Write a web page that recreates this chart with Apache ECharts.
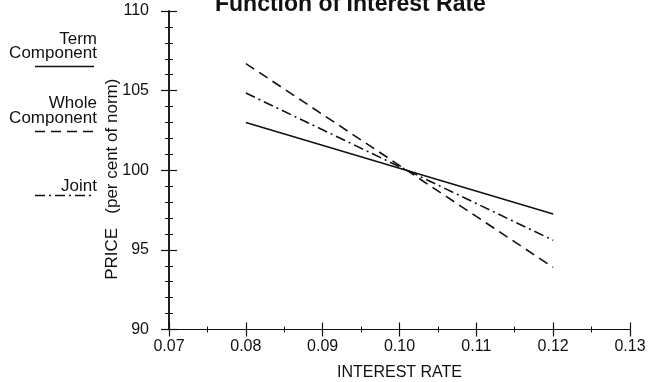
<!DOCTYPE html>
<html>
<head>
<meta charset="utf-8">
<title>Price as a Function of Interest Rate</title>
<script src="https://cdn.jsdelivr.net/npm/echarts@6/dist/echarts.min.js"></script>
<style>
  html, body { margin: 0; padding: 0; background: #fff; }
  #chart { width: 648px; height: 382px; }
</style>
</head>
<body>
<div id="chart"></div>
<script>
// Interest rates at which each price line is evaluated
const rates = [0.08, 0.12];
// Price (per cent of norm) for each component
const termPrice = [103.0, 97.25];
const wholePrice = [106.7, 93.9];
const jointPrice = [104.85, 95.6];

const seriesNames = ['Term Component', 'Whole Component', 'Joint'];

const INK = '#111';
const FONT = "'Liberation Sans', Arial, sans-serif";

function pairs(xs, ys) {
  return xs.map((x, i) => [x, ys[i]]);
}

const chart = echarts.init(document.getElementById('chart'), null, { renderer: 'canvas' });

// shared axis pieces; the second copy of each axis draws the inner half of the cross ticks
const xBase = {
  type: 'value', min: 0.07, max: 0.13, interval: 0.01,
  axisLine: { show: true, lineStyle: { color: INK, width: 1.2 } },
  splitLine: { show: false },
  minorTick: { show: true, splitNumber: 2, length: 3, lineStyle: { color: INK, width: 1 } }
};
const yBase = {
  type: 'value', min: 90, max: 110, interval: 5,
  axisLine: { show: true, lineStyle: { color: INK, width: 1.5 } },
  splitLine: { show: false },
  minorTick: { show: true, splitNumber: 5, length: 4, lineStyle: { color: INK, width: 1 } }
};

chart.setOption({
  backgroundColor: '#fff',
  animation: false,
  title: {
    text: 'Function of Interest Rate',
    left: 215, top: -7, padding: 0,
    textStyle: { fontFamily: FONT, fontWeight: 'bold', fontSize: 23, color: INK }
  },
  grid: { left: 169, right: 18, top: 11, bottom: 52.5, containLabel: false, outerBoundsMode: 'none' },
  xAxis: [
    Object.assign({}, xBase, {
      position: 'bottom',
      name: 'INTEREST RATE', nameLocation: 'middle', nameGap: 35,
      nameTextStyle: { fontFamily: FONT, fontSize: 16, color: INK },
      axisTick: { show: true, inside: false, length: 7, lineStyle: { color: INK, width: 1.2 } },
      axisLabel: {
        show: true, margin: 9, fontFamily: FONT, fontSize: 16, color: INK,
        formatter: v => v.toFixed(2)
      }
    }),
    Object.assign({}, xBase, {
      position: 'bottom', offset: 0,
      axisTick: { show: true, inside: true, length: 7, lineStyle: { color: INK, width: 1.2 } },
      axisLabel: { show: false }
    })
  ],
  yAxis: [
    Object.assign({}, yBase, {
      position: 'left',
      name: 'PRICE   (per cent of norm)', nameLocation: 'middle', nameGap: 48,
      nameMoveOverlap: false,
      nameTextStyle: { fontFamily: FONT, fontSize: 17, color: INK, padding: [0, 18, 0, 0] },
      axisTick: { show: true, inside: false, length: 8, lineStyle: { color: INK, width: 1.2 } },
      axisLabel: { show: true, margin: 20, fontFamily: FONT, fontSize: 16, color: INK }
    }),
    Object.assign({}, yBase, {
      position: 'left', offset: 0,
      axisTick: { show: true, inside: true, length: 8, lineStyle: { color: INK, width: 1.2 } },
      axisLabel: { show: false }
    })
  ],
  series: [
    {
      name: seriesNames[0], type: 'line', xAxisIndex: 0, yAxisIndex: 0,
      data: pairs(rates, termPrice), symbol: 'none',
      lineStyle: { color: INK, width: 1.6, type: 'solid' }
    },
    {
      name: seriesNames[1], type: 'line', xAxisIndex: 0, yAxisIndex: 0,
      data: pairs(rates, wholePrice), symbol: 'none',
      lineStyle: { color: INK, width: 1.6, type: [10, 6] }
    },
    {
      name: seriesNames[2], type: 'line', xAxisIndex: 0, yAxisIndex: 0,
      data: pairs(rates, jointPrice), symbol: 'none',
      lineStyle: { color: INK, width: 1.6, type: [10, 4, 2, 4] }
    }
  ],
  // key drawn down the left margin: labels with a line sample underneath
  graphic: [
    { type: 'text', right: 551, top: 31, style: { text: 'Term', font: '17px ' + FONT, fill: INK, textAlign: 'right' } },
    { type: 'text', right: 551, top: 45, style: { text: 'Component', font: '17px ' + FONT, fill: INK, textAlign: 'right' } },
    { type: 'line', shape: { x1: 35, y1: 66.5, x2: 94, y2: 66.5 }, style: { stroke: INK, lineWidth: 1.5 } },
    { type: 'text', right: 551, top: 95, style: { text: 'Whole', font: '17px ' + FONT, fill: INK, textAlign: 'right' } },
    { type: 'text', right: 551, top: 110, style: { text: 'Component', font: '17px ' + FONT, fill: INK, textAlign: 'right' } },
    { type: 'line', shape: { x1: 35, y1: 131.5, x2: 94, y2: 131.5 }, style: { stroke: INK, lineWidth: 1.5, lineDash: [10, 6] } },
    { type: 'text', right: 551, top: 178, style: { text: 'Joint', font: '17px ' + FONT, fill: INK, textAlign: 'right' } },
    { type: 'line', shape: { x1: 35, y1: 195.5, x2: 94, y2: 195.5 }, style: { stroke: INK, lineWidth: 1.5, lineDash: [10, 4, 2, 4] } }
  ]
});
</script>
</body>
</html>
